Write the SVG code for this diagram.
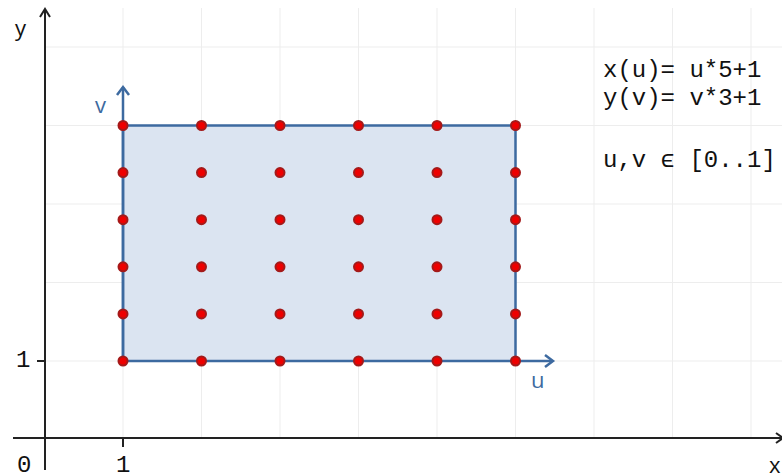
<svg xmlns="http://www.w3.org/2000/svg" width="782" height="476" viewBox="0 0 782 476">
  <defs>
    <style>
      .grid line { stroke: #ededed; stroke-width: 1; }
      .axis { stroke: #222; stroke-width: 2; fill: none; }
      .blue { stroke: #3d6aa0; stroke-width: 2.5; fill: none; }
      .pt { fill: #e00; stroke: #a31a1a; stroke-width: 2; }
      .mono { font-family: "Liberation Mono", monospace; font-size: 24px; fill: #111; }
      .sans { font-family: "Open Sans", "Liberation Sans", sans-serif; font-size: 22px; }
    </style>
  </defs>
  <rect width="782" height="476" fill="#fff"/>
  <g id="grid" class="grid">
    <line x1="123" y1="8" x2="123" y2="438"/>
    <line x1="201.5" y1="8" x2="201.5" y2="438"/>
    <line x1="280" y1="8" x2="280" y2="438"/>
    <line x1="358.5" y1="8" x2="358.5" y2="438"/>
    <line x1="437" y1="8" x2="437" y2="438"/>
    <line x1="515.5" y1="8" x2="515.5" y2="438"/>
    <line x1="594" y1="8" x2="594" y2="438"/>
    <line x1="672.5" y1="8" x2="672.5" y2="438"/>
    <line x1="751" y1="8" x2="751" y2="438"/>
    <line x1="45" y1="47" x2="782" y2="47"/>
    <line x1="45" y1="125.5" x2="782" y2="125.5"/>
    <line x1="45" y1="204" x2="782" y2="204"/>
    <line x1="45" y1="282.5" x2="782" y2="282.5"/>
    <line x1="45" y1="361" x2="782" y2="361"/>
  </g>
  <g id="axes">
    <line class="axis" x1="13" y1="438" x2="782" y2="438"/>
    <polyline class="axis" points="776,433 783,438 776,443"/>
    <line class="axis" x1="45" y1="470" x2="45" y2="10"/>
    <polyline class="axis" points="40,17 45,9 50,17"/>
    <line class="axis" x1="37" y1="361" x2="45" y2="361" stroke-width="1.5"/>
    <line class="axis" x1="123" y1="438" x2="123" y2="447" stroke-width="1.5"/>
    <text class="sans" x="15" y="36" fill="#111">y</text>
    <text class="sans" x="769" y="473" fill="#111">x</text>
    <text class="mono" x="17" y="472">0</text>
    <text class="mono" x="116" y="472">1</text>
    <text class="mono" x="16" y="367">1</text>
  </g>
  <g id="domain">
    <rect x="123" y="125.5" width="392.5" height="235.5" class="blue" style="fill:#dbe4f1"/>
    <line class="blue" x1="515.5" y1="361" x2="552" y2="361"/>
    <polyline class="blue" points="545,355 553,361 545,367"/>
    <line class="blue" x1="123" y1="361" x2="123" y2="87"/>
    <polyline class="blue" points="117,95 123,87 129,95"/>
    <text class="sans" x="531" y="388" fill="#3d6aa0">u</text>
    <text class="sans" x="95" y="113" fill="#3d6aa0">v</text>
  </g>
  <g id="points">
    <circle class="pt" cx="123" cy="125.5" r="4.5"/><circle class="pt" cx="201.5" cy="125.5" r="4.5"/><circle class="pt" cx="280" cy="125.5" r="4.5"/><circle class="pt" cx="358.5" cy="125.5" r="4.5"/><circle class="pt" cx="437" cy="125.5" r="4.5"/><circle class="pt" cx="515.5" cy="125.5" r="4.5"/>
    <circle class="pt" cx="123" cy="172.6" r="4.5"/><circle class="pt" cx="201.5" cy="172.6" r="4.5"/><circle class="pt" cx="280" cy="172.6" r="4.5"/><circle class="pt" cx="358.5" cy="172.6" r="4.5"/><circle class="pt" cx="437" cy="172.6" r="4.5"/><circle class="pt" cx="515.5" cy="172.6" r="4.5"/>
    <circle class="pt" cx="123" cy="219.7" r="4.5"/><circle class="pt" cx="201.5" cy="219.7" r="4.5"/><circle class="pt" cx="280" cy="219.7" r="4.5"/><circle class="pt" cx="358.5" cy="219.7" r="4.5"/><circle class="pt" cx="437" cy="219.7" r="4.5"/><circle class="pt" cx="515.5" cy="219.7" r="4.5"/>
    <circle class="pt" cx="123" cy="266.8" r="4.5"/><circle class="pt" cx="201.5" cy="266.8" r="4.5"/><circle class="pt" cx="280" cy="266.8" r="4.5"/><circle class="pt" cx="358.5" cy="266.8" r="4.5"/><circle class="pt" cx="437" cy="266.8" r="4.5"/><circle class="pt" cx="515.5" cy="266.8" r="4.5"/>
    <circle class="pt" cx="123" cy="313.9" r="4.5"/><circle class="pt" cx="201.5" cy="313.9" r="4.5"/><circle class="pt" cx="280" cy="313.9" r="4.5"/><circle class="pt" cx="358.5" cy="313.9" r="4.5"/><circle class="pt" cx="437" cy="313.9" r="4.5"/><circle class="pt" cx="515.5" cy="313.9" r="4.5"/>
    <circle class="pt" cx="123" cy="361" r="4.5"/><circle class="pt" cx="201.5" cy="361" r="4.5"/><circle class="pt" cx="280" cy="361" r="4.5"/><circle class="pt" cx="358.5" cy="361" r="4.5"/><circle class="pt" cx="437" cy="361" r="4.5"/><circle class="pt" cx="515.5" cy="361" r="4.5"/>
  </g>
  <g id="formula">
    <text class="mono" x="603" y="77">x(u)= u*5+1</text>
    <text class="mono" x="603" y="105">y(v)= v*3+1</text>
    <text class="mono" x="603" y="167">u,v ϵ [0..1]</text>
  </g>
</svg>
